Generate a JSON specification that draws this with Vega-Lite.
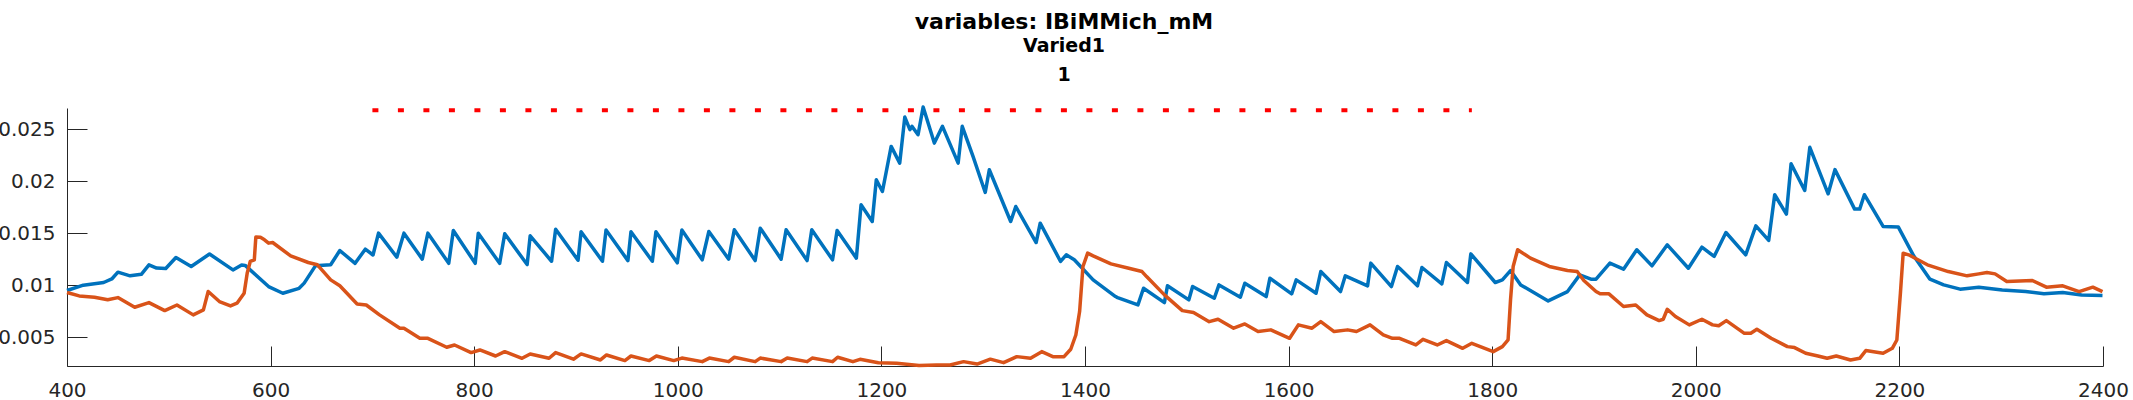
{
  "$schema": "https://vega.github.io/schema/vega-lite/v6.json",
  "autosize": "none",
  "padding": {"left": 67, "top": 108, "right": 30, "bottom": 34},
  "width": 2036,
  "height": 258,
  "background": "white",
  "config": {"view": {"stroke": null}},
  "title": {
    "text": "variables: IBiMMich_mM",
    "subtitle": ["Varied1", "1"],
    "font": "DejaVu Sans", "fontSize": 22, "fontWeight": "bold", "color": "#000000",
    "subtitleFont": "DejaVu Sans", "subtitleFontSize": 19, "subtitleFontWeight": "bold", "subtitleColor": "#000000",
    "subtitleLineHeight": 29, "subtitlePadding": 3,
    "anchor": "middle", "frame": "group", "dx": -21, "offset": 16
  },
  "datasets": {
    "series": [
      {"s":"b","x":400,"y":0.00949},{"s":"b","x":416,"y":0.0100},{"s":"b","x":436,"y":0.01026},{"s":"b","x":444,"y":0.0106},{"s":"b","x":450,"y":0.01125},{"s":"b","x":462,"y":0.0109},{"s":"b","x":473,"y":0.01105},{"s":"b","x":480.5,"y":0.01195},{"s":"b","x":488,"y":0.01165},{"s":"b","x":497,"y":0.0116},{"s":"b","x":507,"y":0.01266},{"s":"b","x":522,"y":0.0118},{"s":"b","x":540,"y":0.0130},{"s":"b","x":563,"y":0.01147},{"s":"b","x":571.5,"y":0.01195},{"s":"b","x":575,"y":0.0119},{"s":"b","x":598,"y":0.00987},{"s":"b","x":612,"y":0.00923},{"s":"b","x":628,"y":0.0097},{"s":"b","x":633,"y":0.0102},{"s":"b","x":644,"y":0.01186},{"s":"b","x":659,"y":0.01196},{"s":"b","x":668,"y":0.01333},{"s":"b","x":683,"y":0.0121},{"s":"b","x":693,"y":0.01346},{"s":"b","x":700.6,"y":0.0129},{"s":"b","x":706,"y":0.0150},{"s":"b","x":724,"y":0.01269},{"s":"b","x":731,"y":0.0150},{"s":"b","x":749,"y":0.0125},{"s":"b","x":754.5,"y":0.0150},{"s":"b","x":775,"y":0.0121},{"s":"b","x":779.5,"y":0.01526},{"s":"b","x":801,"y":0.0121},{"s":"b","x":804,"y":0.0150},{"s":"b","x":825,"y":0.0121},{"s":"b","x":830,"y":0.01494},{"s":"b","x":852,"y":0.01198},{"s":"b","x":855,"y":0.01475},{"s":"b","x":876,"y":0.0123},{"s":"b","x":880,"y":0.01538},{"s":"b","x":902,"y":0.0124},{"s":"b","x":905,"y":0.01513},{"s":"b","x":926,"y":0.0123},{"s":"b","x":929.5,"y":0.0153},{"s":"b","x":951,"y":0.01236},{"s":"b","x":954,"y":0.01513},{"s":"b","x":975,"y":0.0123},{"s":"b","x":978.5,"y":0.01513},{"s":"b","x":999.5,"y":0.01215},{"s":"b","x":1004,"y":0.0153},{"s":"b","x":1024,"y":0.01244},{"s":"b","x":1030.5,"y":0.01516},{"s":"b","x":1050,"y":0.0125},{"s":"b","x":1055.5,"y":0.01532},{"s":"b","x":1076,"y":0.01237},{"s":"b","x":1081,"y":0.01548},{"s":"b","x":1101.5,"y":0.0125},{"s":"b","x":1106.4,"y":0.01532},{"s":"b","x":1127,"y":0.01237},{"s":"b","x":1131.6,"y":0.01532},{"s":"b","x":1152,"y":0.01244},{"s":"b","x":1156.5,"y":0.01525},{"s":"b","x":1175.4,"y":0.0126},{"s":"b","x":1180,"y":0.01772},{"s":"b","x":1191,"y":0.01612},{"s":"b","x":1195,"y":0.02013},{"s":"b","x":1201,"y":0.0190},{"s":"b","x":1209.6,"y":0.02333},{"s":"b","x":1218,"y":0.02173},{"s":"b","x":1223,"y":0.02615},{"s":"b","x":1228,"y":0.02494},{"s":"b","x":1230,"y":0.02526},{"s":"b","x":1236,"y":0.02445},{"s":"b","x":1241,"y":0.02711},{"s":"b","x":1252,"y":0.02365},{"s":"b","x":1260,"y":0.02526},{"s":"b","x":1275.4,"y":0.02173},{"s":"b","x":1279.4,"y":0.02526},{"s":"b","x":1290,"y":0.02237},{"s":"b","x":1302,"y":0.01891},{"s":"b","x":1306,"y":0.02109},{"s":"b","x":1327,"y":0.01612},{"s":"b","x":1332,"y":0.01756},{"s":"b","x":1352,"y":0.0141},{"s":"b","x":1356,"y":0.01596},{"s":"b","x":1376,"y":0.01228},{"s":"b","x":1381.6,"y":0.01292},{"s":"b","x":1389.5,"y":0.01244},{"s":"b","x":1408,"y":0.01051},{"s":"b","x":1430,"y":0.00891},{"s":"b","x":1432,"y":0.00881},{"s":"b","x":1452,"y":0.00811},{"s":"b","x":1457.5,"y":0.00971},{"s":"b","x":1478,"y":0.00833},{"s":"b","x":1481,"y":0.00994},{"s":"b","x":1502,"y":0.00859},{"s":"b","x":1505.7,"y":0.00987},{"s":"b","x":1527,"y":0.00875},{"s":"b","x":1531.6,"y":0.01003},{"s":"b","x":1552.6,"y":0.00885},{"s":"b","x":1557,"y":0.01019},{"s":"b","x":1578,"y":0.00891},{"s":"b","x":1581.6,"y":0.01067},{"s":"b","x":1603,"y":0.00917},{"s":"b","x":1607.5,"y":0.01051},{"s":"b","x":1627,"y":0.00923},{"s":"b","x":1631.6,"y":0.01131},{"s":"b","x":1651,"y":0.00939},{"s":"b","x":1655.7,"y":0.0109},{"s":"b","x":1677.6,"y":0.00994},{"s":"b","x":1680.7,"y":0.01212},{"s":"b","x":1701,"y":0.00987},{"s":"b","x":1707,"y":0.0118},{"s":"b","x":1709,"y":0.01163},{"s":"b","x":1726.6,"y":0.00994},{"s":"b","x":1731,"y":0.0117},{"s":"b","x":1750.5,"y":0.01013},{"s":"b","x":1755,"y":0.01218},{"s":"b","x":1775.7,"y":0.01026},{"s":"b","x":1779,"y":0.01301},{"s":"b","x":1803,"y":0.01026},{"s":"b","x":1810,"y":0.01051},{"s":"b","x":1818,"y":0.01141},{"s":"b","x":1828,"y":0.01003},{"s":"b","x":1855,"y":0.00849},{"s":"b","x":1874,"y":0.00939},{"s":"b","x":1886,"y":0.01099},{"s":"b","x":1897,"y":0.01058},{"s":"b","x":1902,"y":0.01058},{"s":"b","x":1915.6,"y":0.01212},{"s":"b","x":1929,"y":0.01154},{"s":"b","x":1942,"y":0.0134},{"s":"b","x":1957,"y":0.01186},{"s":"b","x":1972,"y":0.01388},{"s":"b","x":1992.7,"y":0.01163},{"s":"b","x":2006,"y":0.01365},{"s":"b","x":2018,"y":0.01276},{"s":"b","x":2029.6,"y":0.01506},{"s":"b","x":2049,"y":0.01292},{"s":"b","x":2059,"y":0.0157},{"s":"b","x":2071.6,"y":0.0143},{"s":"b","x":2077.5,"y":0.01869},{"s":"b","x":2089,"y":0.01683},{"s":"b","x":2093.6,"y":0.02167},{"s":"b","x":2107,"y":0.0191},{"s":"b","x":2112,"y":0.02324},{"s":"b","x":2130,"y":0.01878},{"s":"b","x":2136.7,"y":0.0211},{"s":"b","x":2156,"y":0.01731},{"s":"b","x":2161,"y":0.01731},{"s":"b","x":2165.6,"y":0.01869},{"s":"b","x":2184,"y":0.01564},{"s":"b","x":2199,"y":0.01558},{"s":"b","x":2214,"y":0.01282},{"s":"b","x":2230,"y":0.01058},{"s":"b","x":2243.5,"y":0.01003},{"s":"b","x":2259.6,"y":0.00962},{"s":"b","x":2278,"y":0.00981},{"s":"b","x":2301,"y":0.00955},{"s":"b","x":2324,"y":0.00939},{"s":"b","x":2342,"y":0.00917},{"s":"b","x":2360.5,"y":0.0093},{"s":"b","x":2379,"y":0.00907},{"s":"b","x":2399.5,"y":0.009},
      {"s":"o","x":400,"y":0.0093},{"s":"o","x":412,"y":0.00897},{"s":"o","x":427,"y":0.00885},{"s":"o","x":440,"y":0.0086},{"s":"o","x":450,"y":0.00881},{"s":"o","x":466.5,"y":0.00788},{"s":"o","x":480.5,"y":0.00833},{"s":"o","x":496,"y":0.00756},{"s":"o","x":508,"y":0.0081},{"s":"o","x":524,"y":0.00715},{"s":"o","x":534,"y":0.00763},{"s":"o","x":538.7,"y":0.00939},{"s":"o","x":549.7,"y":0.00843},{"s":"o","x":560.6,"y":0.00801},{"s":"o","x":567,"y":0.00827},{"s":"o","x":574,"y":0.00923},{"s":"o","x":577,"y":0.01115},{"s":"o","x":580,"y":0.01228},{"s":"o","x":584,"y":0.01244},{"s":"o","x":585.5,"y":0.01462},{"s":"o","x":590,"y":0.0146},{"s":"o","x":594,"y":0.01436},{"s":"o","x":598,"y":0.01404},{"s":"o","x":602,"y":0.0141},{"s":"o","x":619.7,"y":0.01282},{"s":"o","x":637,"y":0.01218},{"s":"o","x":646,"y":0.01196},{"s":"o","x":659,"y":0.01051},{"s":"o","x":668,"y":0.00994},{"s":"o","x":685,"y":0.0082},{"s":"o","x":694,"y":0.0081},{"s":"o","x":707,"y":0.00715},{"s":"o","x":727,"y":0.00587},{"s":"o","x":731,"y":0.00587},{"s":"o","x":746.6,"y":0.0049},{"s":"o","x":754.5,"y":0.0049},{"s":"o","x":773,"y":0.00404},{"s":"o","x":780.7,"y":0.00426},{"s":"o","x":797,"y":0.00353},{"s":"o","x":805.6,"y":0.00378},{"s":"o","x":821,"y":0.0032},{"s":"o","x":830,"y":0.00362},{"s":"o","x":847,"y":0.00298},{"s":"o","x":855,"y":0.0034},{"s":"o","x":873.5,"y":0.00298},{"s":"o","x":880,"y":0.00353},{"s":"o","x":897.5,"y":0.00289},{"s":"o","x":905,"y":0.0034},{"s":"o","x":924,"y":0.00282},{"s":"o","x":930,"y":0.0033},{"s":"o","x":948,"y":0.00276},{"s":"o","x":954,"y":0.0032},{"s":"o","x":972,"y":0.00276},{"s":"o","x":979,"y":0.0032},{"s":"o","x":996,"y":0.00276},{"s":"o","x":1004,"y":0.003},{"s":"o","x":1024,"y":0.00266},{"s":"o","x":1031,"y":0.003},{"s":"o","x":1050,"y":0.00266},{"s":"o","x":1055.5,"y":0.00308},{"s":"o","x":1076,"y":0.00266},{"s":"o","x":1081,"y":0.003},{"s":"o","x":1101.5,"y":0.00266},{"s":"o","x":1107.5,"y":0.003},{"s":"o","x":1127,"y":0.00266},{"s":"o","x":1132,"y":0.003},{"s":"o","x":1152,"y":0.00266},{"s":"o","x":1157,"y":0.00308},{"s":"o","x":1172,"y":0.00266},{"s":"o","x":1179,"y":0.00288},{"s":"o","x":1197,"y":0.00256},{"s":"o","x":1215,"y":0.0025},{"s":"o","x":1237,"y":0.00228},{"s":"o","x":1254,"y":0.00234},{"s":"o","x":1267.5,"y":0.00234},{"s":"o","x":1280.7,"y":0.00266},{"s":"o","x":1294,"y":0.00243},{"s":"o","x":1307,"y":0.0029},{"s":"o","x":1320,"y":0.00256},{"s":"o","x":1333,"y":0.00314},{"s":"o","x":1346.5,"y":0.00298},{"s":"o","x":1357.5,"y":0.00362},{"s":"o","x":1368.4,"y":0.00314},{"s":"o","x":1379.4,"y":0.00314},{"s":"o","x":1386,"y":0.00385},{"s":"o","x":1391,"y":0.00522},{"s":"o","x":1394.7,"y":0.00747},{"s":"o","x":1398,"y":0.0118},{"s":"o","x":1402.6,"y":0.01308},{"s":"o","x":1408,"y":0.01282},{"s":"o","x":1425.5,"y":0.01205},{"s":"o","x":1443,"y":0.01163},{"s":"o","x":1456,"y":0.01131},{"s":"o","x":1460.5,"y":0.01083},{"s":"o","x":1478,"y":0.00907},{"s":"o","x":1495.6,"y":0.00756},{"s":"o","x":1506.6,"y":0.00737},{"s":"o","x":1522,"y":0.0065},{"s":"o","x":1530.7,"y":0.00673},{"s":"o","x":1546,"y":0.00587},{"s":"o","x":1557,"y":0.00628},{"s":"o","x":1570,"y":0.00555},{"s":"o","x":1582.5,"y":0.00571},{"s":"o","x":1601,"y":0.0049},{"s":"o","x":1609.6,"y":0.00619},{"s":"o","x":1623,"y":0.00587},{"s":"o","x":1631.6,"y":0.0065},{"s":"o","x":1644.7,"y":0.00555},{"s":"o","x":1658,"y":0.00571},{"s":"o","x":1666.7,"y":0.00555},{"s":"o","x":1680,"y":0.00619},{"s":"o","x":1693,"y":0.00522},{"s":"o","x":1702,"y":0.0049},{"s":"o","x":1709,"y":0.0049},{"s":"o","x":1725,"y":0.00426},{"s":"o","x":1732,"y":0.0048},{"s":"o","x":1746,"y":0.00426},{"s":"o","x":1755,"y":0.00468},{"s":"o","x":1771,"y":0.00394},{"s":"o","x":1780,"y":0.00442},{"s":"o","x":1801,"y":0.00362},{"s":"o","x":1810,"y":0.0041},{"s":"o","x":1815.6,"y":0.00474},{"s":"o","x":1818,"y":0.00859},{"s":"o","x":1820.6,"y":0.0118},{"s":"o","x":1825,"y":0.0134},{"s":"o","x":1837.6,"y":0.0126},{"s":"o","x":1856,"y":0.0118},{"s":"o","x":1874,"y":0.01141},{"s":"o","x":1883.5,"y":0.01131},{"s":"o","x":1890,"y":0.01045},{"s":"o","x":1902,"y":0.00939},{"s":"o","x":1906,"y":0.00917},{"s":"o","x":1914.7,"y":0.00917},{"s":"o","x":1929,"y":0.00795},{"s":"o","x":1941,"y":0.0081},{"s":"o","x":1952,"y":0.00715},{"s":"o","x":1964,"y":0.0066},{"s":"o","x":1968,"y":0.00673},{"s":"o","x":1972,"y":0.00769},{"s":"o","x":1980,"y":0.007},{"s":"o","x":1993.6,"y":0.00619},{"s":"o","x":2006,"y":0.00673},{"s":"o","x":2016.5,"y":0.00619},{"s":"o","x":2022.5,"y":0.0061},{"s":"o","x":2030,"y":0.0066},{"s":"o","x":2047.7,"y":0.00538},{"s":"o","x":2054,"y":0.00538},{"s":"o","x":2060,"y":0.00577},{"s":"o","x":2074,"y":0.0049},{"s":"o","x":2090,"y":0.0041},{"s":"o","x":2097,"y":0.00401},{"s":"o","x":2108,"y":0.00346},{"s":"o","x":2120,"y":0.0032},{"s":"o","x":2129,"y":0.00298},{"s":"o","x":2138,"y":0.0032},{"s":"o","x":2152,"y":0.00282},{"s":"o","x":2161,"y":0.00298},{"s":"o","x":2167,"y":0.00372},{"s":"o","x":2184,"y":0.00346},{"s":"o","x":2193,"y":0.00394},{"s":"o","x":2197.5,"y":0.00474},{"s":"o","x":2201,"y":0.00923},{"s":"o","x":2203.7,"y":0.01308},{"s":"o","x":2209,"y":0.01292},{"s":"o","x":2227.5,"y":0.01196},{"s":"o","x":2248,"y":0.01131},{"s":"o","x":2266.5,"y":0.0109},{"s":"o","x":2278,"y":0.01109},{"s":"o","x":2286,"y":0.01122},{"s":"o","x":2294,"y":0.01109},{"s":"o","x":2305.5,"y":0.01035},{"s":"o","x":2330.6,"y":0.01045},{"s":"o","x":2344.4,"y":0.00981},{"s":"o","x":2360.5,"y":0.00994},{"s":"o","x":2376.5,"y":0.00939},{"s":"o","x":2390,"y":0.00981},{"s":"o","x":2399.5,"y":0.00939}
    ],
    "threshold": [
      {"x": 700, "y": 0.0268},
      {"x": 1780, "y": 0.0268}
    ]
  },
  "layer": [
    {
      "data": {"name": "threshold"},
      "mark": {"type": "line", "color": "#FF0000", "strokeWidth": 4, "strokeDash": [6, 19.5], "strokeCap": "butt"},
      "encoding": {
        "x": {"field": "x", "type": "quantitative", "scale": {"domain": [400, 2400], "nice": false, "zero": false},
          "axis": {"values": [400, 600, 800, 1000, 1200, 1400, 1600, 1800, 2000, 2200, 2400], "format": "d", "title": null, "grid": false,
            "tickSize": -20, "tickWidth": 1, "labelPadding": 34, "domainColor": "#262626", "tickColor": "#262626", "labelColor": "#262626",
            "labelFont": "DejaVu Sans", "labelFontSize": 20, "labelFlush": false, "labelOverlap": false}},
        "y": {"field": "y", "type": "quantitative", "scale": {"domain": [0.00224, 0.02702], "nice": false, "zero": false},
          "axis": {"values": [0.005, 0.01, 0.015, 0.02, 0.025], "format": "~g", "title": null, "grid": false,
            "tickSize": -20, "tickWidth": 1, "labelPadding": 32, "domainColor": "#262626", "tickColor": "#262626", "labelColor": "#262626",
            "labelFont": "DejaVu Sans", "labelFontSize": 20, "labelOverlap": false}}
      }
    },
    {
      "data": {"name": "series"},
      "mark": {"type": "line", "strokeWidth": 3.5, "strokeJoin": "round"},
      "encoding": {
        "x": {"field": "x", "type": "quantitative"},
        "y": {"field": "y", "type": "quantitative"},
        "color": {"field": "s", "type": "nominal", "scale": {"domain": ["b", "o"], "range": ["#0072BD", "#D95319"]}, "legend": null}
      }
    }
  ]
}
